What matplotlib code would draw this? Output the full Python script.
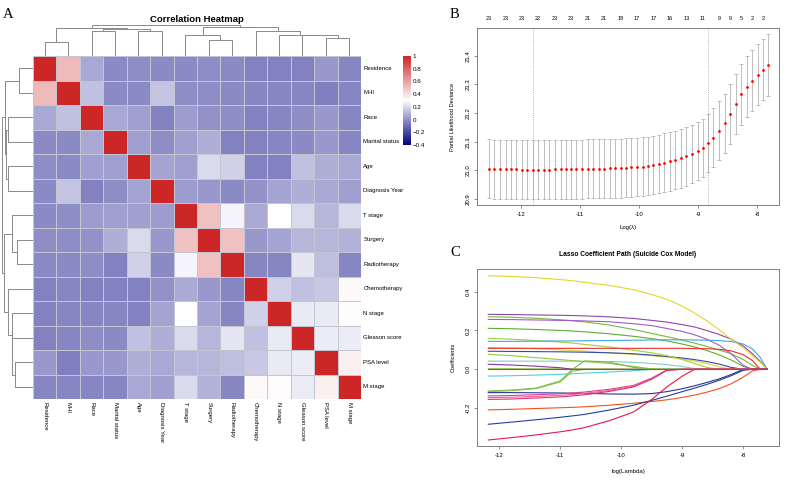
import numpy as np
import matplotlib
matplotlib.use('Agg')
import matplotlib.pyplot as plt
from matplotlib.colors import LinearSegmentedColormap

plt.rcParams['font.family'] = ['Liberation Sans', 'DejaVu Sans']
plt.rcParams['axes.unicode_minus'] = False

# ---------------- data: panel A ----------------
variables = ["Residence", "MHI", "Race", "Marital status", "Age", "Diagnosis Year",
             "T stage", "Surgery", "Radiotherapy", "Chemotherapy", "N stage",
             "Gleason score", "PSA level", "M stage"]
corr = [
    [1.00, 0.52, 0.06, -0.02, -0.01, -0.02, -0.02, -0.01, -0.02, -0.04, -0.04, -0.04, 0.02, -0.03],
    [0.52, 1.00, 0.13, -0.02, -0.02, 0.14, -0.01, -0.01, -0.02, -0.03, -0.03, -0.03, -0.05, -0.03],
    [0.06, 0.13, 1.00, 0.06, 0.04, -0.04, 0.03, 0.00, -0.01, -0.04, -0.03, -0.01, 0.02, -0.03],
    [-0.02, -0.02, 0.06, 1.00, 0.04, -0.01, 0.04, 0.08, -0.04, -0.04, -0.03, -0.02, 0.02, -0.03],
    [-0.01, -0.02, 0.04, 0.04, 1.00, 0.05, 0.04, 0.20, 0.17, -0.04, -0.04, 0.13, 0.08, 0.06],
    [-0.02, 0.14, -0.04, -0.01, 0.05, 1.00, 0.03, 0.02, -0.02, 0.00, 0.05, 0.08, 0.06, 0.04],
    [-0.02, -0.01, 0.03, 0.04, 0.04, 0.03, 1.00, 0.50, 0.27, 0.07, 0.30, 0.20, 0.10, 0.20],
    [-0.01, -0.01, 0.00, 0.08, 0.20, 0.02, 0.50, 1.00, 0.50, 0.02, 0.05, 0.10, 0.10, 0.09],
    [-0.02, -0.02, -0.01, -0.04, 0.17, -0.02, 0.27, 0.50, 1.00, -0.03, -0.03, 0.23, 0.12, -0.03],
    [-0.04, -0.03, -0.04, -0.04, -0.04, 0.00, 0.07, 0.02, -0.03, 1.00, 0.17, 0.13, 0.15, 0.32],
    [-0.04, -0.03, -0.03, -0.03, -0.04, 0.05, 0.30, 0.05, -0.03, 0.17, 1.00, 0.24, 0.24, 0.31],
    [-0.04, -0.03, -0.01, -0.02, 0.13, 0.08, 0.20, 0.10, 0.23, 0.13, 0.24, 1.00, 0.25, 0.25],
    [0.02, -0.05, 0.02, 0.02, 0.08, 0.06, 0.10, 0.10, 0.12, 0.15, 0.24, 0.25, 1.00, 0.35],
    [-0.03, -0.03, -0.03, -0.03, 0.06, 0.04, 0.20, 0.09, -0.03, 0.32, 0.31, 0.25, 0.35, 1.00],
]
# hierarchical clustering merges (node a, node b, height); leaves 0..13 in display order
merges = [(0, 1, 0.45), (2, 3, 0.81), (4, 5, 0.80), (15, 16, 0.85), (14, 17, 0.895),
          (7, 8, 0.50), (6, 19, 0.68), (12, 13, 0.59), (11, 21, 0.655), (10, 22, 0.675),
          (9, 23, 0.79), (20, 24, 0.94), (18, 25, 1.00)]
cbar_ticks = [1, 0.8, 0.6, 0.4, 0.2, 0, -0.2, -0.4]
cbar_labels = ["1", "0.8", "0.6", "0.4", "0.2", "0", "\u22120.2", "\u22120.4"]

# ---------------- data: panel B ----------------
log_lambda = [-12.54, -12.45, -12.35, -12.26, -12.17, -12.08, -11.98, -11.89, -11.80, -11.71,
              -11.61, -11.52, -11.43, -11.33, -11.24, -11.15, -11.06, -10.96, -10.87, -10.78,
              -10.68, -10.59, -10.50, -10.41, -10.31, -10.22, -10.13, -10.04, -9.94, -9.85,
              -9.76, -9.66, -9.57, -9.48, -9.39, -9.29, -9.20, -9.11, -9.01, -8.92,
              -8.83, -8.74, -8.64, -8.55, -8.46, -8.36, -8.27, -8.18, -8.09, -7.99,
              -7.90, -7.81]
cvm = [21.005, 21.004, 21.004, 21.003, 21.003, 21.003, 21.002, 21.002, 21.002, 21.002,
       21.002, 21.002, 21.003, 21.003, 21.003, 21.004, 21.004, 21.004, 21.005, 21.005,
       21.006, 21.006, 21.007, 21.008, 21.008, 21.009, 21.010, 21.012, 21.013, 21.015,
       21.019, 21.022, 21.027, 21.031, 21.036, 21.042, 21.049, 21.057, 21.067, 21.079,
       21.095, 21.114, 21.138, 21.165, 21.197, 21.231, 21.265, 21.292, 21.313, 21.334,
       21.352, 21.369]
cvsd = [0.103, 0.103, 0.103, 0.103, 0.103, 0.103, 0.103, 0.103, 0.103, 0.103,
        0.103, 0.103, 0.103, 0.103, 0.103, 0.103, 0.103, 0.103, 0.103, 0.103,
        0.103, 0.103, 0.103, 0.103, 0.103, 0.103, 0.102, 0.102, 0.102, 0.102,
        0.102, 0.102, 0.102, 0.102, 0.102, 0.102, 0.102, 0.102, 0.102, 0.102,
        0.102, 0.102, 0.103, 0.103, 0.104, 0.105, 0.105, 0.106, 0.106, 0.107,
        0.107, 0.108]
lambda_min = -11.80
lambda_1se = -8.83
nz_idx = [0, 3, 6, 9, 12, 15, 18, 21, 24, 27, 30, 33, 36, 39, 42, 44, 46, 48, 50]
nz_labels = ["23", "23", "23", "22", "23", "23", "21", "21", "18", "17", "17", "16",
             "13", "11", "9", "9", "5", "2", "2"]

# ---------------- data: panel C ----------------
path_x = [-12.18, -11.8, -11.4, -11.0, -10.8, -10.6, -10.2, -9.8, -9.5, -9.25,
          -9.0, -8.8, -8.6, -8.4, -8.2, -8.0, -7.85, -7.72, -7.61]
path_colors = ["#9CCC65", "#7ECFC5", "#7D3C98", "#4DD0E1", "#9BC53D", "#D9D441",
               "#2E4FA0", "#A6CE39", "#5DAE2E", "#7CB342", "#A35BC2", "#8E44AD",
               "#3DA5E8", "#E8302A", "#E5D626", "#6DBE45", "#8BC34A", "#283593",
               "#E6399B", "#F06292", "#D6337F", "#F4511E", "#1E3FA0", "#E8174B",
               "#E8302A"]
path_coefs = [
    [0.004, 0.004, 0.003, 0.003, 0.003, 0.002, 0.002, 0.0, 0, 0, 0, 0, 0, 0, 0, 0, 0, 0, 0],
    [0.042, 0.042, 0.042, 0.042, 0.042, 0.041, 0.040, 0.036, 0.030, 0.024, 0.014, 0.004, 0, 0, 0, 0, 0, 0, 0],
    [0.026, 0.022, 0.016, 0.008, 0, 0, 0, 0, 0, 0, 0, 0, 0, 0, 0, 0, 0, 0, 0],
    [-0.035, -0.033, -0.030, -0.026, -0.023, -0.020, -0.014, -0.007, -0.001, 0, 0, 0, 0, 0, 0, 0, 0, 0, 0],
    [0.077, 0.070, 0.060, 0.050, 0.045, 0.040, 0.030, 0.015, 0.002, 0, 0, 0, 0, 0, 0, 0, 0, 0, 0],
    [0.112, 0.110, 0.106, 0.100, 0.097, 0.093, 0.085, 0.077, 0.070, 0.063, 0.053, 0.043, 0.030, 0.013, 0, 0, 0, 0, 0],
    [0.093, 0.092, 0.091, 0.090, 0.089, 0.088, 0.085, 0.080, 0.073, 0.066, 0.058, 0.050, 0.040, 0.027, 0.010, 0, 0, 0, 0],
    [0.160, 0.155, 0.148, 0.140, 0.135, 0.128, 0.115, 0.098, 0.085, 0.070, 0.050, 0.030, 0.010, 0, 0, 0, 0, 0, 0],
    [0.211, 0.209, 0.205, 0.200, 0.197, 0.193, 0.183, 0.170, 0.158, 0.146, 0.130, 0.115, 0.097, 0.075, 0.048, 0.015, 0, 0, 0],
    [0.271, 0.268, 0.263, 0.255, 0.250, 0.244, 0.228, 0.205, 0.185, 0.168, 0.150, 0.135, 0.118, 0.100, 0.080, 0.050, 0.020, 0, 0],
    [0.257, 0.256, 0.254, 0.252, 0.251, 0.249, 0.245, 0.235, 0.225, 0.210, 0.195, 0.178, 0.155, 0.125, 0.080, 0.020, 0, 0, 0],
    [0.283, 0.282, 0.280, 0.278, 0.277, 0.275, 0.270, 0.262, 0.252, 0.243, 0.230, 0.218, 0.200, 0.180, 0.155, 0.120, 0.080, 0.040, 0.0],
    [0.144, 0.144, 0.145, 0.146, 0.146, 0.147, 0.148, 0.150, 0.151, 0.152, 0.152, 0.151, 0.150, 0.148, 0.143, 0.130, 0.105, 0.060, 0.0],
    [0.108, 0.108, 0.108, 0.108, 0.108, 0.108, 0.108, 0.108, 0.108, 0.108, 0.108, 0.107, 0.106, 0.103, 0.095, 0.075, 0.045, 0.0, 0.0],
    [0.482, 0.478, 0.472, 0.462, 0.456, 0.448, 0.432, 0.410, 0.385, 0.360, 0.325, 0.290, 0.250, 0.205, 0.155, 0.110, 0.070, 0.035, 0.0],
    [-0.112, -0.107, -0.097, -0.060, 0.0, 0.043, 0.037, 0.010, 0, 0, 0, 0, 0, 0, 0, 0, 0, 0, 0],
    [-0.115, -0.110, -0.100, -0.065, -0.010, 0, 0, 0, 0, 0, 0, 0, 0, 0, 0, 0, 0, 0, 0],
    [-0.120, -0.120, -0.121, -0.122, -0.123, -0.124, -0.127, -0.128, -0.125, -0.115, -0.100, -0.085, -0.068, -0.050, -0.027, 0, 0, 0, 0],
    [-0.137, -0.135, -0.131, -0.126, -0.122, -0.117, -0.103, -0.083, -0.045, -0.003, 0, 0, 0, 0, 0, 0, 0, 0, 0],
    [-0.146, -0.144, -0.140, -0.134, -0.130, -0.124, -0.109, -0.087, -0.048, -0.004, 0, 0, 0, 0, 0, 0, 0, 0, 0],
    [-0.155, -0.153, -0.148, -0.142, -0.137, -0.131, -0.114, -0.091, -0.051, -0.005, 0, 0, 0, 0, 0, 0, 0, 0, 0],
    [-0.209, -0.206, -0.202, -0.198, -0.196, -0.193, -0.185, -0.175, -0.166, -0.157, -0.145, -0.133, -0.118, -0.100, -0.075, -0.040, -0.008, 0, 0],
    [-0.283, -0.272, -0.260, -0.247, -0.240, -0.232, -0.210, -0.185, -0.160, -0.138, -0.115, -0.097, -0.078, -0.057, -0.033, -0.005, 0, 0, 0],
    [-0.364, -0.352, -0.338, -0.322, -0.312, -0.300, -0.265, -0.220, -0.155, -0.090, -0.035, 0, 0, 0, 0, 0, 0, 0, 0],
    [0, 0, 0, 0, 0, 0, 0, 0, 0, 0, 0, 0, 0, 0, 0, 0, 0, 0, 0],
]

# ---------------- figure ----------------
W, H = 794, 482
fig = plt.figure(figsize=(W / 100, H / 100), dpi=100)


def pax(x0, y0, x1, y1):
    return fig.add_axes([x0 / W, 1 - y1 / H, (x1 - x0) / W, (y1 - y0) / H])


n = len(variables)
# navy -> white -> firebrick3 ; white sits at 0.3 on the -0.4..1 scale
cmap = LinearSegmentedColormap.from_list("nwr", [(0.0, "#000080"), (0.5, "#FFFFFF"), (1.0, "#CD2626")])

# heatmap
axH = pax(33, 56, 361, 399)
axH.pcolormesh(np.array(corr), cmap=cmap, vmin=-0.4, vmax=1.0,
               edgecolors="#c4c4d2", linewidth=0.4)
axH.set_xlim(0, n)
axH.set_ylim(n, 0)
axH.axis("off")
for i, name in enumerate(variables):
    axH.text(n + 0.1, i + 0.5, name, ha="left", va="center", fontsize=4.3)
    axH.text(i + 0.5, n + 0.12, name, ha="center", va="top", rotation=-90, fontsize=4.3)

DCOL = "#8a8a8a"


def draw_dendro(ax, orient):
    pos = {i: i + 0.5 for i in range(n)}
    hgt = {i: 0.0 for i in range(n)}
    for k, (a, b, h) in enumerate(merges):
        xs = [pos[a], pos[a], pos[b], pos[b]]
        hs = [hgt[a], h, h, hgt[b]]
        if orient == "top":
            ax.plot(xs, hs, color=DCOL, lw=0.7, solid_capstyle="butt")
        else:
            ax.plot(hs, xs, color=DCOL, lw=0.7, solid_capstyle="butt")
        pos[n + k] = (pos[a] + pos[b]) / 2
        hgt[n + k] = h


axDT = pax(33, 22, 361, 56)
draw_dendro(axDT, "top")
axDT.set_xlim(0, n)
axDT.set_ylim(0, 34 / 31.3)
axDT.axis("off")

axDL = pax(0, 56, 33, 399)
draw_dendro(axDL, "left")
axDL.set_xlim(33 / 31.3, 0)
axDL.set_ylim(n, 0)
axDL.axis("off")

fig.text(197 / W, 1 - 19 / H, "Correlation Heatmap", ha="center", va="center",
         fontsize=6.8, fontweight="bold")

# colorbar
axCB = pax(403, 56, 410, 145)
axCB.imshow(np.linspace(1, -0.4, 256)[:, None], aspect="auto", cmap=cmap,
            vmin=-0.4, vmax=1.0, extent=[0, 1, -0.4, 1])
axCB.set_xticks([])
axCB.yaxis.tick_right()
axCB.set_yticks(cbar_ticks)
axCB.set_yticklabels(cbar_labels, fontsize=4.5)
axCB.tick_params(axis="y", length=0, pad=2)
for s in axCB.spines.values():
    s.set_visible(False)
axCB.set_ylim(-0.4, 1)

# ---------------- panel B ----------------
GRAY = "#7f7f7f"


def style_r_axes(ax):
    for s in ax.spines.values():
        s.set_color(GRAY)
        s.set_linewidth(0.7)
    ax.tick_params(axis="both", direction="out", length=2.5, width=0.6, color=GRAY,
                   labelsize=4.3, pad=2.5)


axB = pax(477.3, 28.3, 779, 205)
axB.errorbar(log_lambda, cvm, yerr=cvsd, fmt="none", ecolor="#b4b4b4",
             elinewidth=0.6, capsize=1.5, capthick=0.6)
axB.scatter(log_lambda, cvm, s=4.0, c="red", zorder=3, linewidths=0)
axB.axvline(lambda_min, color="#a0a0a0", ls=(0, (1, 1.5)), lw=0.6)
axB.axvline(lambda_1se, color="#a0a0a0", ls=(0, (1, 1.5)), lw=0.6)
axB.set_xlim(-12.74, -7.63)
axB.set_ylim(20.879, 21.496)
axB.set_xticks([-12, -11, -10, -9, -8])
axB.set_yticks([20.9, 21.0, 21.1, 21.2, 21.3, 21.4])
axB.set_yticklabels(["20.9", "21.0", "21.1", "21.2", "21.3", "21.4"], rotation=90, va="center")
style_r_axes(axB)
for i, lab in zip(nz_idx, nz_labels):
    axB.text(log_lambda[i], 1.057, lab, transform=axB.get_xaxis_transform(),
             ha="center", va="center", fontsize=4.0)
fig.text(453 / W, 1 - 116.7 / H, "Partial Likelihood Deviance", rotation=90,
         ha="center", va="center", fontsize=4.1)
fig.text(628 / W, 1 - 228 / H, "Log(\u03bb)", ha="center", va="center", fontsize=4.3)

# ---------------- panel C ----------------
axC = pax(477.3, 269.3, 779, 446)
for col, vals in zip(path_colors, path_coefs):
    axC.plot(path_x, vals, color=col, lw=0.8)
axC.set_xlim(-12.36, -7.415)
axC.set_ylim(-0.395, 0.515)
axC.set_xticks([-12, -11, -10, -9, -8])
axC.set_yticks([-0.2, 0.0, 0.2, 0.4])
axC.set_yticklabels(["-0.2", "0.0", "0.2", "0.4"], rotation=90, va="center")
style_r_axes(axC)
fig.text(628 / W, 1 - 255 / H, "Lasso Coefficient Path (Suicide Cox Model)",
         ha="center", va="center", fontsize=4.8, fontweight="bold")
fig.text(453 / W, 1 - 357.6 / H, "Coefficients", rotation=90,
         ha="center", va="center", fontsize=4.1)
fig.text(628 / W, 1 - 471 / H, "log(Lambda)", ha="center", va="center", fontsize=4.3)

# panel letters
for lab, x, y in [("A", 8, 15), ("B", 454, 15), ("C", 455, 253)]:
    fig.text(x / W, 1 - y / H, lab, ha="center", va="center", fontsize=10.5,
             family=["Liberation Serif", "DejaVu Serif"])

fig.savefig("out.png", dpi=100)
